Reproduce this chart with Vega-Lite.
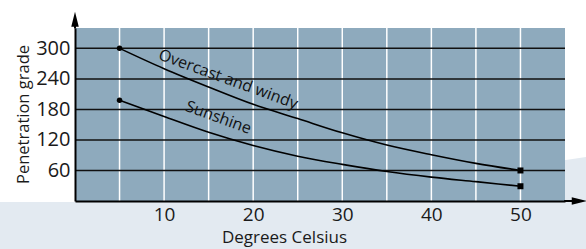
{
  "$schema": "https://vega.github.io/schema/vega-lite/v6.json",
  "autosize": {"type": "none"},
  "padding": {"left": 75, "top": 28, "right": 21, "bottom": 48},
  "width": 490,
  "height": 173,
  "background": "white",
  "config": {
    "view": {"stroke": null},
    "font": "Open Sans"
  },
  "datasets": {
    "curves": [
      {"series": "Overcast and windy", "celsius": 5, "grade": 300},
      {"series": "Overcast and windy", "celsius": 10, "grade": 260},
      {"series": "Overcast and windy", "celsius": 15, "grade": 224},
      {"series": "Overcast and windy", "celsius": 20, "grade": 190},
      {"series": "Overcast and windy", "celsius": 25, "grade": 162},
      {"series": "Overcast and windy", "celsius": 30, "grade": 134},
      {"series": "Overcast and windy", "celsius": 35, "grade": 110},
      {"series": "Overcast and windy", "celsius": 40, "grade": 91},
      {"series": "Overcast and windy", "celsius": 45, "grade": 74},
      {"series": "Overcast and windy", "celsius": 50, "grade": 60},
      {"series": "Sunshine", "celsius": 5, "grade": 198},
      {"series": "Sunshine", "celsius": 10, "grade": 166},
      {"series": "Sunshine", "celsius": 15, "grade": 135},
      {"series": "Sunshine", "celsius": 20, "grade": 109},
      {"series": "Sunshine", "celsius": 25, "grade": 88},
      {"series": "Sunshine", "celsius": 30, "grade": 72},
      {"series": "Sunshine", "celsius": 35, "grade": 58},
      {"series": "Sunshine", "celsius": 40, "grade": 47},
      {"series": "Sunshine", "celsius": 45, "grade": 38},
      {"series": "Sunshine", "celsius": 50, "grade": 29}
    ],
    "labels": [
      {"label": "Overcast and windy", "celsius": 17.2, "grade": 239},
      {"label": "Sunshine", "celsius": 16.1, "grade": 164}
    ],
    "swoosh": [
      {"celsius": -8.5, "top": -2, "bottom": -95},
      {"celsius": 50, "top": -2, "bottom": -95},
      {"celsius": 54.9, "top": 80, "bottom": -95},
      {"celsius": 57.4, "top": 86.5, "bottom": -95}
    ],
    "vgrid": [
      {"celsius": 5}, {"celsius": 10}, {"celsius": 15}, {"celsius": 20}, {"celsius": 25},
      {"celsius": 30}, {"celsius": 35}, {"celsius": 40}, {"celsius": 45}, {"celsius": 50}
    ],
    "hgrid": [
      {"grade": 60}, {"grade": 120}, {"grade": 180}, {"grade": 240}, {"grade": 300}
    ]
  },
  "layer": [
    {
      "data": {"name": "swoosh"},
      "mark": {"type": "area", "color": "#e3eaf1", "interpolate": "linear"},
      "encoding": {
        "x": {"field": "celsius", "type": "quantitative", "scale": {"domain": [0, 55], "nice": false, "zero": false},
          "axis": {"zindex": 2, "values": [10, 20, 30, 40, 50], "title": "Degrees Celsius", "grid": false, "ticks": false, "labelOverlap": false,
            "domainColor": "#000000", "domainWidth": 2, "labelFontSize": 19, "labelColor": "#1a1a1a", "labelPadding": 4,
            "labelFont": "Open Sans", "titleFont": "Open Sans", "titleFontWeight": "normal", "titleFontSize": 17, "titleColor": "#1a1a1a",
            "titleX": 209, "titleY": 28, "titleBaseline": "top", "titleAlign": "center"}},
        "y": {"field": "top", "type": "quantitative", "scale": {"domain": [0, 340], "nice": false, "zero": false},
          "axis": {"zindex": 2, "values": [60, 120, 180, 240, 300], "title": "Penetration grade", "grid": false, "ticks": false, "labelOverlap": false,
            "domainColor": "#000000", "domainWidth": 2, "labelFontSize": 20, "labelColor": "#1a1a1a", "labelPadding": 5,
            "labelFont": "Open Sans", "titleFont": "Open Sans", "titleFontWeight": "normal", "titleFontSize": 16.5, "titleColor": "#1a1a1a",
            "titleX": -44, "titleY": 86, "titleAngle": 270, "titleAlign": "center", "titleBaseline": "bottom"}},
        "y2": {"field": "bottom"}
      }
    },
    {
      "data": {"values": [{}]},
      "mark": {"type": "rect", "color": "#8eaabd"},
      "encoding": {
        "x": {"datum": 0, "type": "quantitative"},
        "x2": {"datum": 55},
        "y": {"datum": 0, "type": "quantitative"},
        "y2": {"datum": 340}
      }
    },
    {
      "data": {"name": "vgrid"},
      "mark": {"type": "rule", "color": "#ffffff", "strokeWidth": 1.5},
      "encoding": {
        "x": {"field": "celsius", "type": "quantitative"},
        "y": {"datum": 0, "type": "quantitative"},
        "y2": {"datum": 340}
      }
    },
    {
      "data": {"name": "hgrid"},
      "mark": {"type": "rule", "color": "#111111", "strokeWidth": 1.5},
      "encoding": {
        "y": {"field": "grade", "type": "quantitative"},
        "x": {"datum": 0, "type": "quantitative"},
        "x2": {"datum": 55}
      }
    },
    {
      "data": {"name": "curves"},
      "mark": {"type": "line", "color": "#000000", "strokeWidth": 1.6, "interpolate": "monotone"},
      "encoding": {
        "x": {"field": "celsius", "type": "quantitative"},
        "y": {"field": "grade", "type": "quantitative"},
        "detail": {"field": "series"}
      }
    },
    {
      "data": {"name": "curves"},
      "transform": [{"filter": "datum.celsius == 5"}],
      "mark": {"type": "point", "shape": "circle", "filled": true, "color": "#000000", "size": 30, "opacity": 1},
      "encoding": {
        "x": {"field": "celsius", "type": "quantitative"},
        "y": {"field": "grade", "type": "quantitative"}
      }
    },
    {
      "data": {"name": "curves"},
      "transform": [{"filter": "datum.celsius == 50"}],
      "mark": {"type": "point", "shape": "square", "filled": true, "color": "#000000", "size": 36, "opacity": 1},
      "encoding": {
        "x": {"field": "celsius", "type": "quantitative"},
        "y": {"field": "grade", "type": "quantitative"}
      }
    },
    {
      "data": {"name": "labels"},
      "mark": {"type": "text", "angle": 20, "fontSize": 16, "font": "Open Sans", "color": "#111111", "align": "center", "baseline": "middle"},
      "encoding": {
        "x": {"field": "celsius", "type": "quantitative"},
        "y": {"field": "grade", "type": "quantitative"},
        "text": {"field": "label"}
      }
    },
    {
      "data": {"values": [{}]},
      "mark": {"type": "rule", "color": "#000000", "strokeWidth": 2},
      "encoding": {
        "x": {"datum": 0, "type": "quantitative"},
        "y": {"datum": 339, "type": "quantitative"},
        "y2": {"datum": 360}
      }
    },
    {
      "data": {"values": [{}]},
      "mark": {"type": "rule", "color": "#000000", "strokeWidth": 2},
      "encoding": {
        "y": {"datum": 0, "type": "quantitative"},
        "x": {"datum": 54.9, "type": "quantitative"},
        "x2": {"datum": 56.5}
      }
    },
    {
      "data": {"values": [{}]},
      "mark": {"type": "point", "shape": "M0,-1L0.5,1L-0.5,1Z", "filled": true, "color": "#000000", "size": 225, "opacity": 1},
      "encoding": {
        "x": {"datum": 0, "type": "quantitative"},
        "y": {"datum": 357, "type": "quantitative"}
      }
    },
    {
      "data": {"values": [{}]},
      "mark": {"type": "point", "shape": "M1,0L-1,-0.5L-1,0.5Z", "filled": true, "color": "#000000", "size": 225, "opacity": 1},
      "encoding": {
        "x": {"datum": 56.6, "type": "quantitative"},
        "y": {"datum": 0, "type": "quantitative"}
      }
    }
  ]
}
